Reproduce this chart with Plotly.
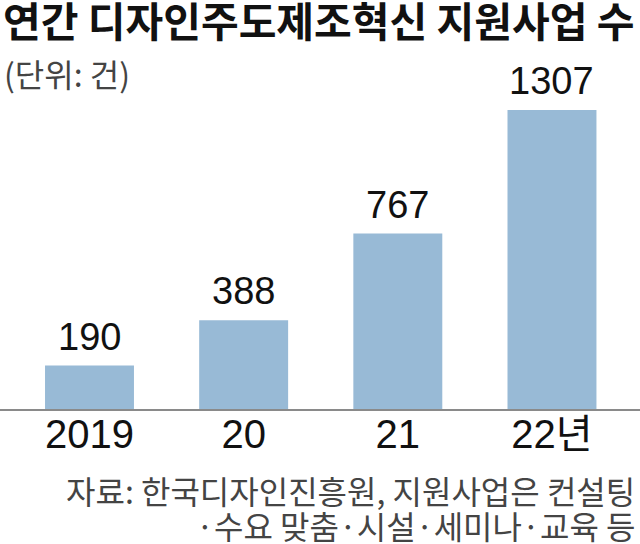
import plotly.graph_objects as go

categories = ["2019", "20", "21", "22년"]
values = [190, 388, 767, 1307]
value_labels = ["190", "388", "767", "1307"]

title_text = "연간 디자인주도제조혁신 지원사업 수"
unit_text = "(단위: 건)"
source_line1 = "자료: 한국디자인진흥원, 지원사업은 컨설팅"
source_line2 = "·수요 맞춤·시설·세미나·교육 등"

NUM_FONT = "Liberation Sans Narrow, Arial Narrow, Liberation Sans, Noto Sans CJK KR"
KR_FONT = "Noto Sans CJK KR, Noto Sans, sans-serif"
BAR_COLOR = "#98bad6"

fig = go.Figure()
fig.add_trace(go.Bar(
    x=categories, y=values,
    marker=dict(color=BAR_COLOR, line=dict(width=0)),
    hoverinfo="skip",
))

for i, (v, t) in enumerate(zip(values, value_labels)):
    fig.add_annotation(
        x=i, y=v, xref="x", yref="y", text=t, showarrow=False,
        yanchor="bottom", yshift=6,
        font=dict(family=NUM_FONT, size=38, color="#111111"),
    )

plot_h = 409.0
def py(px):
    return (plot_h - px) / plot_h

fig.add_annotation(
    x=2 / 640, y=py(-12), xref="paper", yref="paper", text="<b>" + title_text + "</b>",
    showarrow=False, xanchor="left", yanchor="top", borderpad=0,
    font=dict(family=KR_FONT, size=41, color="#111111"),
)
fig.add_annotation(
    x=2 / 640, y=py(48), xref="paper", yref="paper", text=unit_text,
    showarrow=False, xanchor="left", yanchor="top",
    font=dict(family=KR_FONT, size=32, color="#444444"),
)
fig.add_annotation(
    x=636 / 640, y=py(490), xref="paper", yref="paper", text=source_line1,
    showarrow=False, xanchor="right", yanchor="middle", borderpad=0,
    font=dict(family=KR_FONT, size=32, color="#444444"),
)
fig.add_annotation(
    x=636 / 640, y=py(525), xref="paper", yref="paper", text=source_line2,
    showarrow=False, xanchor="right", yanchor="middle", borderpad=0,
    font=dict(family=KR_FONT, size=32, color="#444444"),
)

fig.update_layout(
    width=640, height=544,
    margin=dict(l=0, r=0, t=0, b=135, pad=0),
    paper_bgcolor="white", plot_bgcolor="white",
    showlegend=False,
    bargap=0.423,
    xaxis=dict(
        type="category", range=[-0.5805, 3.571],
        showline=True, linecolor="#8a8a8a", linewidth=2,
        showgrid=False, zeroline=False,
        ticks="", ticklabelstandoff=-11,
        tickfont=dict(family=NUM_FONT, size=40, color="#111111"),
        fixedrange=True,
    ),
    yaxis=dict(
        range=[0, 1788], visible=False, showgrid=False, zeroline=False,
        fixedrange=True,
    ),
)

fig.write_html(
    "out.html",
    config={"displayModeBar": False},
    post_script="document.body.style.margin='0';document.body.style.padding='0';",
)
